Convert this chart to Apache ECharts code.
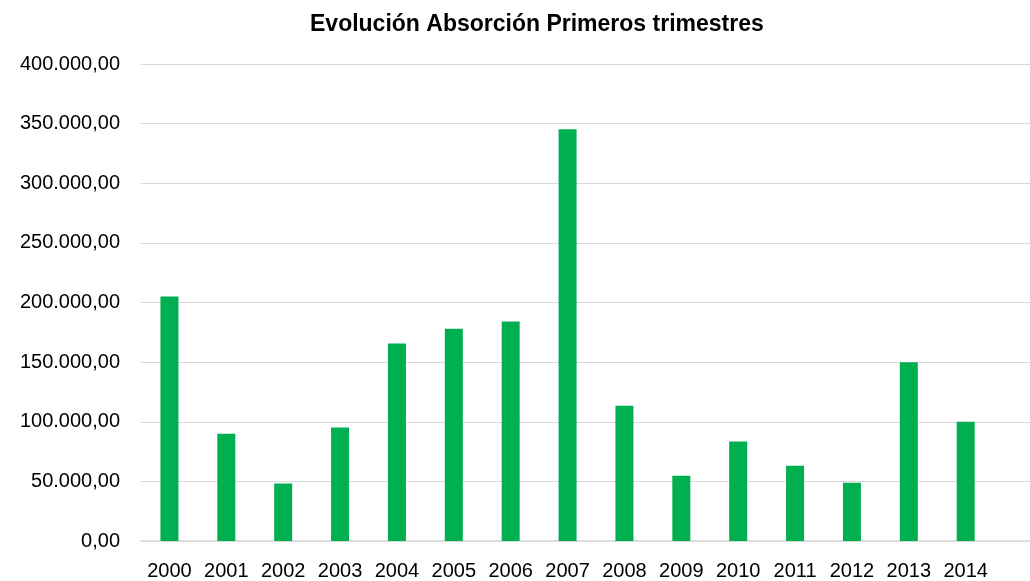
<!DOCTYPE html>
<html>
<head>
<meta charset="utf-8">
<script src="https://cdn.jsdelivr.net/npm/echarts@6/dist/echarts.min.js"></script>
<style>
  html, body { margin: 0; padding: 0; background: #fff; }
  #chart { width: 1030px; height: 581px; }
</style>
</head>
<body>
<div id="chart"></div>
<script>
// years shown on the axis; the last slot is an empty category (cut off on the right in the original)
const years = ['2000', '2001', '2002', '2003', '2004', '2005', '2006', '2007',
    '2008', '2009', '2010', '2011', '2012', '2013', '2014', ''];

// absorción del primer trimestre
const absorcion = [205000, 90000, 48300, 95200, 165700, 178000, 184000, 345200,
    113400, 54800, 83500, 63100, 48900, 150000, 100000, null];

const fmt = v => v.toLocaleString('de-DE', { minimumFractionDigits: 2, maximumFractionDigits: 2 });

const chart = echarts.init(document.getElementById('chart'));

const option = {
    animation: false,
    title: {
        text: 'Evolución Absorción Primeros trimestres',
        left: 305,
        top: 8,
        textStyle: {
            fontFamily: 'Liberation Sans, sans-serif',
            fontWeight: 'bold',
            fontSize: 23,
            color: '#000',
        },
    },
    grid: {
        left: 141,
        right: -21,
        top: 64,
        bottom: 40,
        containLabel: false,
        outerBoundsMode: 'none',
    },
    xAxis: {
        type: 'category',
        data: years,
        axisLine: { lineStyle: { color: '#d9d9d9', width: 1.5 } },
        axisTick: { show: false },
        axisLabel: {
            interval: 0,
            margin: 20,
            fontFamily: 'Liberation Sans, sans-serif',
            fontSize: 20,
            color: '#000',
        },
    },
    yAxis: {
        type: 'value',
        min: 0,
        max: 400000,
        interval: 50000,
        axisLine: { show: false },
        axisTick: { show: false },
        splitLine: { lineStyle: { color: '#d9d9d9', width: 1 } },
        axisLabel: {
            margin: 21,
            fontFamily: 'Liberation Sans, sans-serif',
            fontSize: 20,
            color: '#000',
            formatter: fmt,
        },
    },
    series: [
        {
            type: 'bar',
            data: absorcion,
            barWidth: 18,
            itemStyle: { color: '#00b050' },
        },
    ],
};

chart.setOption(option);
</script>
</body>
</html>
